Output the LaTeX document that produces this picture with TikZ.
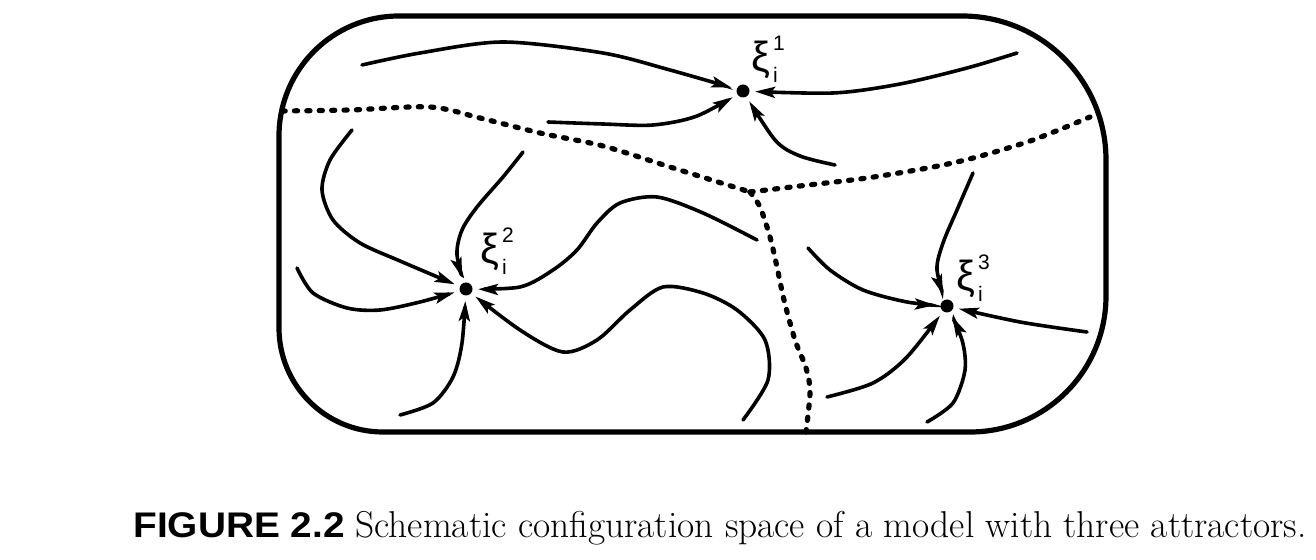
\documentclass[tikz,border=0pt]{standalone}
\usepackage{fontspec}
\usepackage{graphicx}
\usetikzlibrary{arrows.meta}
\newfontfamily\lab{Liberation Sans}
\newfontfamily\figsans{Liberation Sans}
\newcommand\attrlabel[1]{{\fontsize{21}{21}\selectfont ξ}\kern1.5pt{\fontsize{10.5}{10.5}\selectfont\rlap{\raisebox{10.5pt}{#1}}\raisebox{-5.5pt}{i}}}
\tikzset{
  frameline/.style={line width=2.6pt},
  flow/.style={line width=1.8pt, line cap=round, shorten >=6pt, -{Stealth[length=10pt,width=5.5pt,inset=2pt]}},
  basin/.style={line width=2.6pt, line cap=round, dash pattern=on 1.6pt off 4.6pt},
  attractor/.style={circle, fill=black, inner sep=0pt, minimum size=6.5pt},
  attrlab/.style={anchor=base west, inner sep=0pt, font=\lab},
}
\begin{document}
\begin{tikzpicture}[x=0.5pt,y=-0.5pt]
\useasboundingbox (0,0) rectangle (1316,560);
% frame
\draw[frameline] (700,16) [rounded corners=72pt] -- (1106,16) [rounded corners=68pt] -- (1106,432) [rounded corners=52pt] -- (279,432) [rounded corners=60pt] -- (279,16) [sharp corners] -- cycle;
% attractors
\node[attractor] (x1) at (743,91) {};
\node[attractor] (x2) at (466,289) {};
\node[attractor] (x3) at (947,306) {};
\node[attrlab] (l1) at (751,72) {\attrlabel{1}};
\node[attrlab] (l2) at (480,264) {\attrlabel{2}};
\node[attrlab] (l3) at (956,291) {\attrlabel{3}};
% start points
\coordinate (a1) at (362,65);
\coordinate (a2) at (548,122);
\coordinate (a3) at (1017,53);
\coordinate (a4) at (835,165);
\coordinate (b1) at (352,130);
\coordinate (b2) at (523,152);
\coordinate (b3) at (297,268);
\coordinate (b4) at (400,415);
\coordinate (b5) at (757,240);
\coordinate (b6) at (743,420);
\coordinate (c1) at (973,173);
\coordinate (c2) at (808,248);
\coordinate (c3) at (1087,332);
\coordinate (c4) at (827,397);
\coordinate (c5) at (927,422);
% basin boundaries
\coordinate (j) at (750,192);
\coordinate (dl) at (282,111);
\coordinate (dr) at (1090,117);
\coordinate (db) at (806,432);
\draw[basin] plot[smooth] coordinates {(dl) (350,110) (430,107) (480,118) (540,133) (603,146) (670,167) (j)};
\draw[basin] plot[smooth] coordinates {(j) (800,186) (867,178) (933,167) (977,157) (1033,140) (dr)};
\draw[basin] plot[smooth] coordinates {(j) (760,207) (770,237) (777,267) (784,300) (795,340) (806,368) (810,392) (db)};
% flows to attractor 1
\draw[flow] plot[smooth] coordinates {(a1) (420,53) (503,42) (603,53) (670,70) (x1.center)};
\draw[flow] plot[smooth] coordinates {(a2) (603,124) (653,125) (697,116) (x1.center)};
\draw[flow] plot[smooth] coordinates {(a3) (967,68) (900,84) (833,93) (x1.center)};
\draw[flow] plot[smooth] coordinates {(a4) (800,156) (775,140) (x1.center)};
% flows to attractor 2
\draw[flow] plot[smooth] coordinates {(b1) (330,160) (322,190) (333,220) (360,243) (400,261) (x2.center)};
\draw[flow] plot[smooth] coordinates {(b2) (503,177) (477,207) (462,230) (457,255) (x2.center)};
\draw[flow] plot[smooth] coordinates {(b3) (313,293) (347,308) (380,310) (420,302) (x2.center)};
\draw[flow] plot[smooth] coordinates {(b4) (433,403) (453,377) (462,343) (x2.center)};
\draw[flow] plot[smooth] coordinates {(b5) (703,213) (657,197) (620,203) (597,223) (577,250) (553,270) (520,287) (x2.center)};
\draw[flow] plot[smooth] coordinates {(b6) (768,380) (765,340) (737,310) (703,293) (663,287) (630,310) (597,340) (563,352) (520,330) (x2.center)};
% flows to attractor 3
\draw[flow] plot[smooth] coordinates {(c1) (957,210) (943,243) (937,270) (x3.center)};
\draw[flow] plot[smooth] coordinates {(c2) (830,270) (863,290) (907,302) (x3.center)};
\draw[flow] plot[smooth] coordinates {(c3) (1020,322) (x3.center)};
\draw[flow] plot[smooth] coordinates {(c4) (873,383) (907,357) (x3.center)};
\draw[flow] plot[smooth] coordinates {(c5) (953,403) (965,370) (962,340) (x3.center)};
% caption
\node[anchor=base west, inner sep=0pt] (capA) at (133,538) {\figsans\bfseries\fontsize{17.8}{17.8}\selectfont\scalebox{1.09}[1]{FIGURE 2.2}};
\node[anchor=base west, inner sep=0pt] (capB) at (355,538) {\fontsize{18.7}{20}\selectfont Schematic configuration space of a model with three attractors.};
\end{tikzpicture}
\end{document}
